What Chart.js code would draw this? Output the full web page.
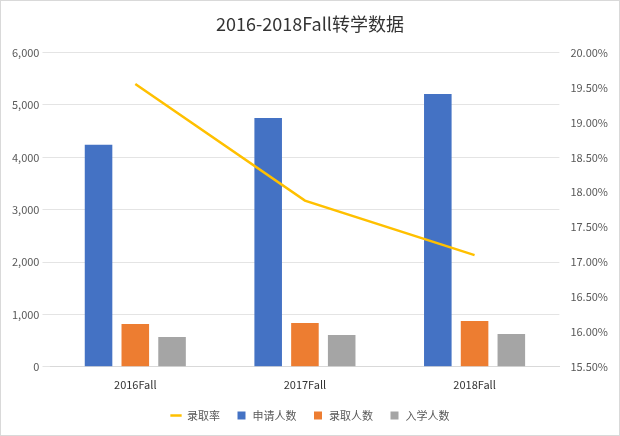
<!DOCTYPE html>
<html>
<head>
<meta charset="utf-8">
<script src="https://cdn.jsdelivr.net/npm/chart.js@4"></script>
<style>
  html, body { margin: 0; padding: 0; background: #fff; }
  #wrap { width: 618px; height: 434px; border: 1px solid #d9d9d9; }
</style>
</head>
<body>
<div id="wrap"><canvas id="chart"></canvas></div>
<script>
const categories = ['2016Fall', '2017Fall', '2018Fall'];
const applicants = [4240, 4750, 5210];
const admitted = [817, 836, 874];
const enrolled = [570, 608, 627];
const admitRate = [19.55, 17.88, 17.1];

const font = "'Noto Sans CJK SC', 'Noto Sans', sans-serif";

function barSet(label, data, color) {
  return {
    type: 'bar',
    label,
    data,
    backgroundColor: color,
    yAxisID: 'y',
    barPercentage: 0.75,
    categoryPercentage: 0.65,
    pointStyle: 'rect',
    order: 2,
  };
}

new Chart(document.getElementById('chart').getContext('2d'), {
  data: {
    labels: categories,
    datasets: [
      barSet('申请人数', applicants, '#4472c4'),
      barSet('录取人数', admitted, '#ed7d31'),
      barSet('入学人数', enrolled, '#a5a5a5'),
      {
        type: 'line',
        label: '录取率',
        data: admitRate,
        borderColor: '#ffc000',
        backgroundColor: '#ffc000',
        borderWidth: 2.5,
        pointRadius: 0,
        tension: 0,
        yAxisID: 'y1',
        pointStyle: 'line',
        order: 1,
      },
    ],
  },
  options: {
    responsive: true,
    maintainAspectRatio: false,
    animation: false,
    layout: { padding: { left: 8, right: 8, top: 8, bottom: 4 } },
    plugins: {
      title: {
        display: true,
        text: '2016-2018Fall转学数据',
        color: '#333',
        font: { family: font, size: 18, weight: 'normal' },
        padding: { top: 4, bottom: 18 },
      },
      legend: {
        position: 'bottom',
        labels: {
          usePointStyle: true,
          boxWidth: 24,
          boxHeight: 8,
          color: '#595959',
          font: { family: font, size: 11 },
          padding: 16,
        },
      },
      tooltip: { enabled: false },
    },
    scales: {
      x: {
        grid: { display: false },
        border: { color: '#d9d9d9' },
        ticks: { color: '#333', font: { family: font, size: 11 } },
      },
      y: {
        position: 'left',
        min: 0,
        max: 6000,
        ticks: {
          stepSize: 1000,
          color: '#595959',
          font: { family: font, size: 11 },
          callback: (v) => v.toLocaleString('en-US'),
        },
        grid: { color: '#e4e4e4' },
        border: { display: false },
      },
      y1: {
        position: 'right',
        min: 15.5,
        max: 20,
        ticks: {
          stepSize: 0.5,
          color: '#595959',
          font: { family: font, size: 11 },
          callback: (v) => v.toFixed(2) + '%',
        },
        grid: { display: false },
        border: { display: false },
      },
    },
  },
});
</script>
</body>
</html>
